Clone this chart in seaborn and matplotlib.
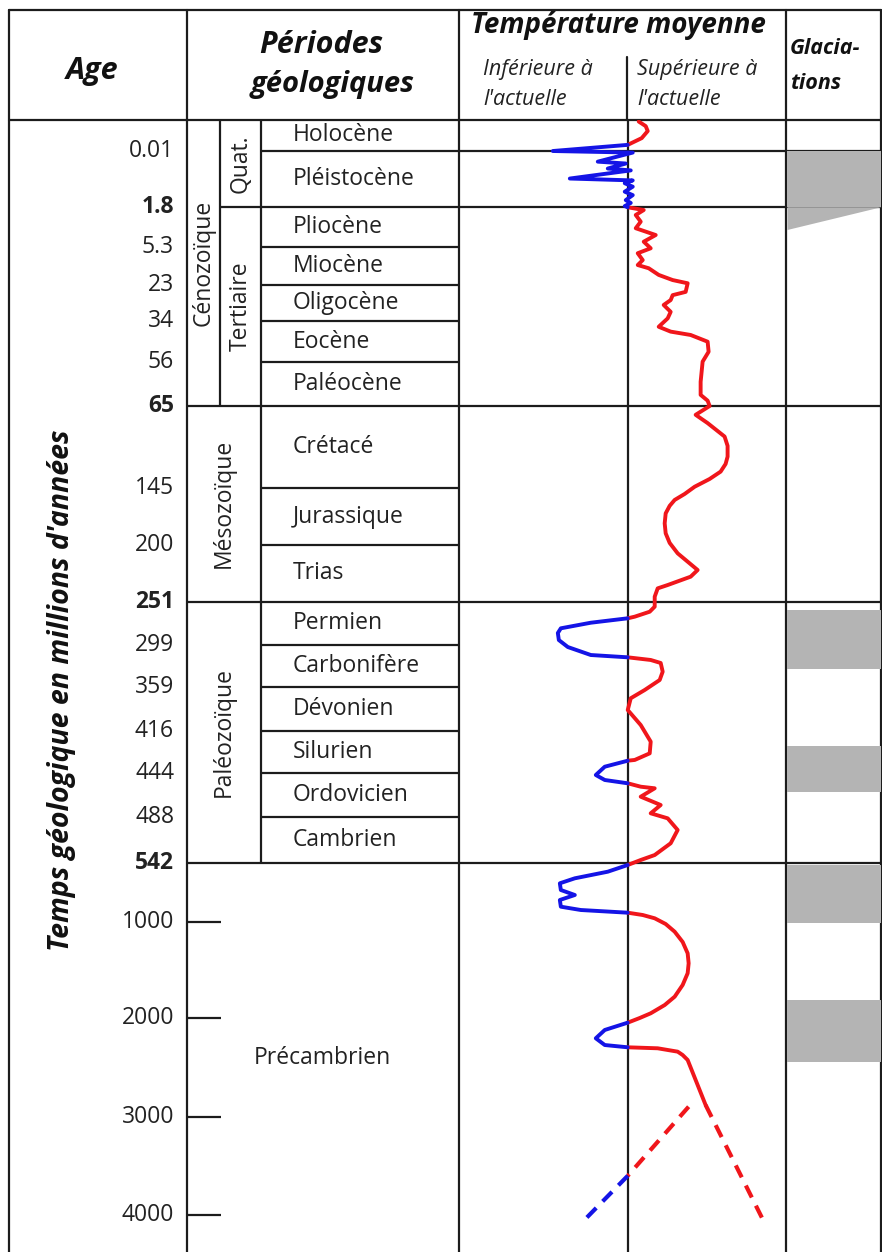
import numpy as np
import pandas as pd
import matplotlib
matplotlib.use("Agg")
import matplotlib.pyplot as plt
import seaborn as sns

# --- échelle des temps géologiques (millions d'années) ---
period_names = ["Holocène", "Pléistocène", "Pliocène", "Miocène", "Oligocène", "Eocène",
                "Paléocène", "Crétacé", "Jurassique", "Trias", "Permien", "Carbonifère",
                "Dévonien", "Silurien", "Ordovicien", "Cambrien"]
period_start = [0, 0.01, 1.8, 5.3, 23, 34, 56, 65, 145, 200, 251, 299, 359, 416, 444, 488]
period_end = [0.01, 1.8, 5.3, 23, 34, 56, 65, 145, 200, 251, 299, 359, 416, 444, 488, 542]

era_names = ["Cénozoïque", "Mésozoïque", "Paléozoïque", "Précambrien"]
era_start = [0, 65, 251, 542]
era_end = [65, 251, 542, 4380]

sub_names = ["Quat.", "Tertiaire"]
sub_start = [0, 1.8]
sub_end = [1.8, 65]

age_labels = [0.01, 1.8, 5.3, 23, 34, 56, 65, 145, 200, 251, 299, 359, 416, 444, 488, 542,
              1000, 2000, 3000, 4000]
age_bold = [1.8, 65, 251, 542]
precambrian_ticks = [1000, 2000, 3000, 4000]

# --- glaciations (Ma) ---
glac_start = [0.01, 260, 426, 557, 1808]
glac_end = [1.8, 333, 463, 1010, 2443]
glac_wedge_age = [1.8, 3.8]
glac_wedge_width = [1.0, 0.0]

# --- température moyenne : écart relatif à l'actuelle (unités arbitraires) ---
seg_phase = ["chaud", "froid", "chaud", "froid", "chaud", "froid", "chaud",
             "froid", "chaud", "froid", "chaud"]
seg_age = [
    [0.0005, 0.002, 0.0036, 0.0059, 0.0081],
    [0.0081, 0.02, 0.07, 0.36, 0.42, 0.58, 0.64, 0.90, 0.96, 1.05, 1.16, 1.32, 1.43,
     1.59, 1.68, 1.78, 1.85],
    [1.85, 2.09, 2.52, 3.10, 3.67, 4.26, 4.84, 5.9, 8.2, 11.4, 13.7, 15.2, 18.3, 20.7,
     22.2, 25.1, 26.1, 27.6, 29.1, 31.2, 33.2, 37.1, 39.7, 41.5, 45.1, 50.5, 55.8, 60.1,
     62.8, 64.0, 65.5, 74.0, 82.0, 95.0, 104, 114.4, 121.5, 128.9, 136, 143.5, 150.5,
     156.3, 162, 169.3, 179, 188.7, 198, 207.5, 215, 222.5, 228.5, 236.0, 239.0, 246.5,
     256.5, 262.1, 267.6, 269.4],
    [269.4, 274.3, 280.5, 285.7, 293.5, 301.9, 313.3, 316.6],
    [316.6, 320.4, 324.7, 337.1, 349.0, 362.9, 373.7, 389.0, 408.6, 423.3, 431.1,
     435.5, 436.0],
    [436.0, 440.0, 446.3, 451.3, 454.6],
    [454.6, 458.0, 459.6, 468.0, 476.3, 484.6, 489.9, 503.5, 519.0, 532.7, 538.5, 557.5],
    [557.5, 609.5, 660.8, 699.6, 751.6, 790.4, 829.2, 881.2, 906.9, 927.8],
    [927.8, 945.7, 971.3, 1021, 1101, 1208, 1326, 1430, 1534, 1656, 1778, 1865, 1951,
     2000, 2047],
    [2047, 2121, 2205, 2273, 2296],
    [2296, 2306, 2340, 2374, 2424, 2879],
]
seg_dev = [
    [11, 18, 20, 14, 0],
    [0, -75, 5, -30, -2, -20, 3, -58, 5, -3, 5, -3, 5, -2, 3, -3, 0],
    [0, 16, 8, 13, 8, 28, 16, 23, 10, 15, 10, 21, 31, 45, 60, 58, 45, 43, 36, 43, 40,
     31, 43, 63, 80, 81, 75, 73, 73, 80, 82, 68, 80, 97, 100, 100, 98, 93, 82, 67, 57,
     47, 42, 38, 37, 38, 42, 50, 60, 70, 63, 40, 30, 27, 27, 22, 7, 0],
    [0, -37, -67, -70, -69, -60, -37, 0],
    [0, 23, 33, 35, 32, 17, 3, 0, 13, 23, 22, 7, 0],
    [0, -23, -32, -23, 0],
    [0, 13, 27, 13, 33, 23, 40, 50, 43, 27, 13, 0],
    [0, -20, -53, -68, -67, -53, -68, -67, -47, 0],
    [0, 15, 27, 38, 47, 55, 60, 61, 60, 55, 47, 37, 23, 12, 0],
    [0, -23, -32, -23, 0],
    [0, 30, 50, 55, 60, 78],
]
# extrapolations incertaines (tirets)
dash_phase = ["chaud", "chaud", "froid"]
dash_age = [[2879, 4102], [2896, 3600], [3600, 4068]]
dash_dev = [[78, 138], [61, 0], [0, -45]]

# --- échelle verticale du schéma (hauteur donnée à chaque tranche) ---
scale_age = [0, 0.01, 1.8, 5.3, 23, 34, 56, 65, 145, 200, 251, 299, 359, 416, 444, 488,
             542, 1000, 2000, 3000, 4000, 4380]
scale_pos = [0, 30.7, 86.7, 127, 165, 201, 242, 285.5, 368.3, 425, 481.7, 525, 567,
             610.7, 652.7, 696.7, 743, 802, 898, 997, 1095, 1132]


def fwd(a):
    return np.interp(a, scale_age, scale_pos)


def inv(p):
    return np.interp(p, scale_pos, scale_age)


def mid(a, b):
    return inv((fwd(a) + fwd(b)) / 2)


def solid_df(phases, ages, devs):
    rows = []
    for i, (ph, ag, dv) in enumerate(zip(phases, ages, devs)):
        for a, d in zip(ag, dv):
            rows.append({"seg": i, "phase": ph, "age": a, "dev": d})
    return pd.DataFrame(rows)


sns.set_theme(style="white")
plt.rcParams["font.family"] = ["Open Sans", "DejaVu Sans"]

W, H, HEAD = 882, 1252, 120
LC, LW = "#1c1c1c", 1.6
RED, BLUE = "#f0161b", "#1414e6"
GREY = "#b4b4b4"

fig = plt.figure(figsize=(W / 100, H / 100), dpi=100)
ax_head = fig.add_axes([0, 1 - HEAD / H, 1, HEAD / H])
body_h = (H - HEAD) / H
ax_tab = fig.add_axes([0, 0, 1, body_h])
ax_tmp = fig.add_axes([458.5 / W, 0, (786 - 458.5) / W, body_h], sharey=ax_tab)
ax_gla = fig.add_axes([786 / W, 0, (881 - 786) / W, body_h], sharey=ax_tab)
for ax in (ax_tmp, ax_gla):
    ax.patch.set_alpha(0)

# --- en-tête ---
ax_head.set_xlim(0, W)
ax_head.set_ylim(HEAD, 0)
ax_head.set_axis_off()
ax_head.plot([8.5, 881], [9.5, 9.5], color=LC, lw=LW, clip_on=False)
for x in [8.5, 187, 458.5, 786, 881]:
    ax_head.plot([x, x], [9.5, HEAD], color=LC, lw=LW, clip_on=False)
ax_head.plot([627, 627], [57, HEAD], color=LC, lw=LW, clip_on=False)

bi = dict(fontweight="bold", fontstyle="italic", color="#111111")
ax_head.text(92, 79, "Age", ha="center", va="baseline", fontsize=22, **bi)
ax_head.text(321, 53, "Périodes", ha="center", va="baseline", fontsize=22, **bi)
ax_head.text(333, 92, "géologiques", ha="center", va="baseline", fontsize=21, **bi)
ax_head.text(618, 33, "Température moyenne", ha="center", va="baseline", fontsize=20, **bi)
ax_head.text(790, 54, "Glacia-", ha="left", va="baseline", fontsize=15.5, **bi)
ax_head.text(790, 89, "tions", ha="left", va="baseline", fontsize=15.5, **bi)
it = dict(fontstyle="italic", fontsize=15.5, color="#222222", ha="left", va="baseline")
ax_head.text(483, 75, "Inférieure à", **it)
ax_head.text(483, 105, "l'actuelle", **it)
ax_head.text(637, 75, "Supérieure à", **it)
ax_head.text(637, 105, "l'actuelle", **it)

# --- corps du tableau ---
ax_tab.set_xlim(0, W)
AGE_MAX = era_end[-1]


def hline(ax, age, x0, x1):
    ax.plot([x0, x1], [age, age], color=LC, lw=LW, clip_on=False, solid_capstyle="butt")


def vline(ax, x, a0, a1):
    ax.plot([x, x], [a0, a1], color=LC, lw=LW, clip_on=False, solid_capstyle="butt")


for x in [8.5, 187, 458.5, 786, 881]:
    vline(ax_tab, x, 0, AGE_MAX)
vline(ax_tab, 220, sub_start[0], sub_end[-1])
vline(ax_tab, 260.5, 0, era_end[2])

hline(ax_tab, 0, 8.5, 881)
for a in era_start[1:]:
    hline(ax_tab, a, 187, 881)
hline(ax_tab, sub_end[0], 220, 881)
hline(ax_tab, period_end[0], 260.5, 881)
for a in period_end[2:-1]:
    if a not in era_start:
        hline(ax_tab, a, 260.5, 458.5)
for a in precambrian_ticks:
    hline(ax_tab, a, 187, 221)

txt = dict(fontsize=16.5, color="#222222")
for name, a, b in zip(period_names, period_start, period_end):
    ax_tab.text(293, mid(a, b), name, ha="left", va="center", **txt)

for a in age_labels:
    ax_tab.text(174, a, f"{a:g}", ha="right", va="center",
                fontweight="bold" if a in age_bold else "normal", **txt)

era_x = [203.5, 223.5, 223.5, 322.5]
for name, a, b, x in zip(era_names, era_start, era_end, era_x):
    rot = 0 if name == "Précambrien" else 90
    ax_tab.text(x, mid(a, b), name, ha="center", va="center", rotation=rot, **txt)
for name, a, b in zip(sub_names, sub_start, sub_end):
    ax_tab.text(240.5, mid(a, b), name, ha="center", va="center", rotation=90, **txt)

fig.text(62 / W, 1 - 690 / H, "Temps géologique en millions d'années", rotation=90,
         ha="center", va="center", fontsize=20.5, **bi)

# --- courbe de température ---
pal = {"chaud": RED, "froid": BLUE}
sns.lineplot(data=solid_df(seg_phase, seg_age, seg_dev), x="dev", y="age", hue="phase",
             units="seg", estimator=None, sort=False, palette=pal, lw=2.8,
             legend=False, ax=ax_tmp, solid_joinstyle="round", solid_capstyle="round")
sns.lineplot(data=solid_df(dash_phase, dash_age, dash_dev), x="dev", y="age", hue="phase",
             units="seg", estimator=None, sort=False, palette=pal, lw=3.0,
             legend=False, ax=ax_tmp, linestyle=(0, (3.2, 2.2)))
ax_tmp.axvline(0, color=LC, lw=LW, zorder=0)
ax_tmp.set_xlim(-169.5, 158.5)
ax_tmp.set_axis_off()

# --- glaciations ---
for s, e in zip(glac_start, glac_end):
    ax_gla.axhspan(s, e, xmin=0.01, xmax=1, color=GREY, lw=0, zorder=0)
ax_gla.fill_betweenx(glac_wedge_age, 0.01, glac_wedge_width, color=GREY, lw=0, zorder=0)
ax_gla.set_xlim(0, 1)
ax_gla.set_axis_off()

ax_tab.set_axis_off()
ax_tab.set_yscale("function", functions=(fwd, inv))
ax_tab.set_ylim(AGE_MAX, 0)

fig.savefig("out.png", dpi=100, facecolor="white")
plt.close(fig)
